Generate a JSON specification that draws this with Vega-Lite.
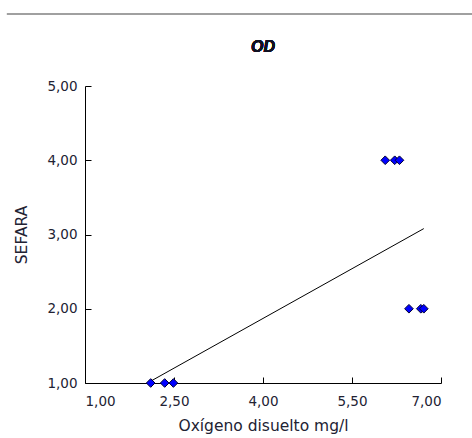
{
  "$schema": "https://vega.github.io/schema/vega-lite/v6.json",
  "width": 356,
  "height": 297,
  "autosize": {"type": "none"},
  "padding": {"left": 85, "top": 86, "right": 31, "bottom": 55},
  "background": "white",
  "config": {
    "view": {"stroke": null},
    "font": "DejaVu Sans",
    "axis": {
      "domainColor": "#000000",
      "domainWidth": 1,
      "tickColor": "#000000",
      "tickSize": -6,
      "grid": false,
      "labelFont": "DejaVu Sans",
      "labelFontSize": 13.5,
      "labelColor": "#222233",
      "titleFont": "DejaVu Sans",
      "titleFontSize": 15.5,
      "titleFontWeight": "normal",
      "titleColor": "#222233"
    }
  },
  "data": {
    "values": [
      {"od": 2.107, "sefara": 1},
      {"od": 2.343, "sefara": 1},
      {"od": 2.49, "sefara": 1},
      {"od": 6.06, "sefara": 4},
      {"od": 6.22, "sefara": 4},
      {"od": 6.3, "sefara": 4},
      {"od": 6.46, "sefara": 2},
      {"od": 6.66, "sefara": 2},
      {"od": 6.71, "sefara": 2}
    ]
  },
  "layer": [
    {
      "mark": {"type": "rule", "color": "#a0a0a0", "strokeWidth": 2, "clip": false},
      "encoding": {
        "x": {"datum": -0.315, "type": "quantitative"},
        "x2": {"datum": 7.52},
        "y": {"datum": 5.97, "type": "quantitative"}
      }
    },
    {
      "mark": {"type": "text", "text": "OD", "font": "Liberation Sans", "fontSize": 16, "fontWeight": "bold", "fontStyle": "italic", "color": "#111122", "baseline": "middle", "align": "center", "clip": false},
      "encoding": {
        "x": {"datum": 4, "type": "quantitative"},
        "y": {"datum": 5.525, "type": "quantitative"}
      }
    },
    {
      "transform": [{"regression": "sefara", "on": "od"}],
      "mark": {"type": "line", "color": "#000000", "strokeWidth": 1},
      "encoding": {
        "x": {"field": "od", "type": "quantitative"},
        "y": {"field": "sefara", "type": "quantitative"}
      }
    },
    {
      "mark": {"type": "point", "shape": "diamond", "filled": true, "size": 75, "color": "#0000ff", "stroke": "#000033", "strokeWidth": 1, "opacity": 1},
      "encoding": {
        "x": {
          "field": "od", "type": "quantitative",
          "scale": {"domain": [1, 7], "nice": false, "zero": false},
          "axis": {
            "title": "Oxígeno disuelto mg/l",
            "values": [1, 2.5, 4, 5.5, 7],
            "labelExpr": "replace(format(datum.value, '.2f'), '.', ',')",
            "labelPadding": 17,
            "titlePadding": 11
          }
        },
        "y": {
          "field": "sefara", "type": "quantitative",
          "scale": {"domain": [1, 5], "nice": false, "zero": false},
          "axis": {
            "title": "SEFARA",
            "values": [1, 2, 3, 4, 5],
            "labelExpr": "replace(format(datum.value, '.2f'), '.', ',')",
            "labelPadding": 14,
            "titlePadding": 17
          }
        }
      }
    }
  ]
}
